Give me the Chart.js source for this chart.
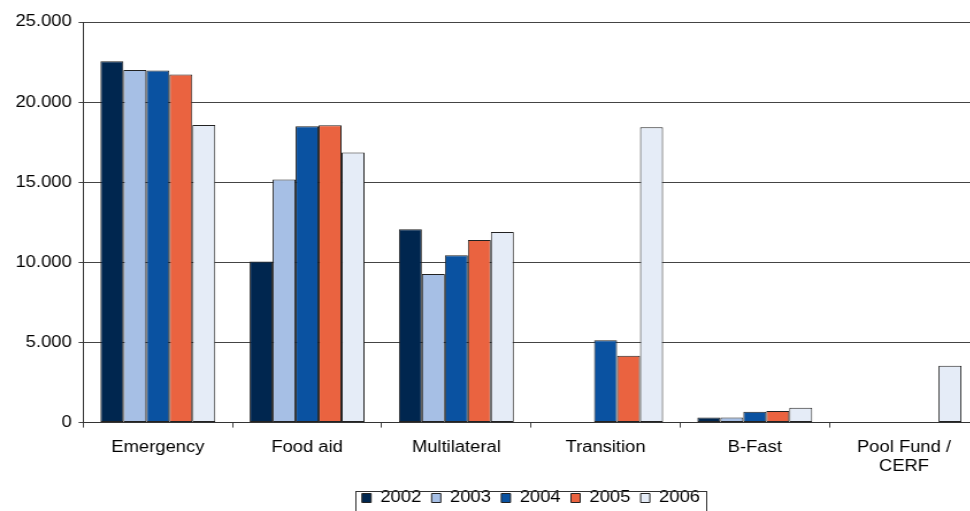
<!DOCTYPE html>
<html>
<head>
<meta charset="utf-8">
<script src="https://cdn.jsdelivr.net/npm/chart.js@4"></script>
<style>
  html, body { margin: 0; padding: 0; background: #fff; overflow: hidden; width: 970px; height: 511px; }
  #wrap { position: absolute; left: 0; top: 0; width: 856px; height: 511px; transform: scaleX(1.15); transform-origin: 0 0; }
</style>
</head>
<body>
<div id="wrap"><canvas id="c"></canvas></div>
<script>
// Humanitarian aid by instrument, 2002-2006 (thousands)
const categories = ['Emergency', 'Food aid', 'Multilateral', 'Transition', 'B-Fast', ['Pool Fund /', 'CERF']];
const years = ['2002', '2003', '2004', '2005', '2006'];
const values2002 = [22550, 10050, 12060, null, 320, null];
const values2003 = [22000, 15170, 9270, null, 320, null];
const values2004 = [21970, 18500, 10450, 5140, 680, null];
const values2005 = [21720, 18550, 11400, 4170, 730, null];
const values2006 = [18570, 16850, 11900, 18430, 930, 3550];
const yTicks = [0, 5000, 10000, 15000, 20000, 25000];

const seriesColors = ['#00264F', '#A6BFE5', '#0A52A1', '#EA6340', '#E5ECF7'];
const seriesValues = [values2002, values2003, values2004, values2005, values2006];

const FONT = "'Liberation Sans', Arial, sans-serif";

function thousands(v) {
  return String(v).replace(/\B(?=(\d{3})+(?!\d))/g, '.');
}

// Outline box around the legend entries
const legendFrame = {
  id: 'legendFrame',
  afterDraw(chart) {
    const lg = chart.legend;
    if (!lg || !lg.legendHitBoxes || !lg.legendHitBoxes.length) return;
    const hb = lg.legendHitBoxes;
    const last = hb[hb.length - 1];
    const left = Math.round(hb[0].left - 6) + 0.5;
    const right = Math.round(last.left + last.width + 5) + 0.5;
    const top = Math.round(hb[0].top + 1) + 0.5;
    const ctx = chart.ctx;
    ctx.save();
    ctx.strokeStyle = '#333';
    ctx.lineWidth = 1;
    ctx.strokeRect(left, top, right - left, chart.height - top + 20);
    ctx.restore();
  }
};

new Chart(document.getElementById('c'), {
  type: 'bar',
  data: {
    labels: categories,
    datasets: years.map((y, i) => ({
      label: y,
      data: seriesValues[i],
      backgroundColor: seriesColors[i],
      borderColor: '#222',
      borderWidth: 1,
      borderSkipped: false,
      categoryPercentage: 0.77,
      barPercentage: 1.0
    }))
  },
  options: {
    responsive: true,
    maintainAspectRatio: false,
    animation: false,
    devicePixelRatio: 1,
    layout: { padding: { top: 22, right: 5, bottom: -5, left: 0 } },
    plugins: {
      tooltip: { enabled: false },
      legend: {
        position: 'bottom',
        fullSize: false,
        labels: {
          color: '#000',
          font: { family: FONT, size: 16 },
          boxWidth: 8,
          boxHeight: 9,
          padding: 9
        }
      }
    },
    scales: {
      x: {
        afterFit(scale) { scale.height = scale.height - 5; },
        grid: { display: true, drawOnChartArea: false, offset: true, tickLength: 5, color: '#444' },
        border: { color: '#333', width: 1 },
        ticks: {
          color: '#000',
          font: { family: FONT, size: 16, lineHeight: 1.2 },
          padding: 10,
          maxRotation: 0,
          autoSkip: false
        }
      },
      y: {
        min: 0,
        max: 25000,
        afterFit(scale) { scale.width = 72.4; },
        afterBuildTicks(scale) { scale.ticks = yTicks.map(v => ({ value: v })); },
        grid: { color: '#444', tickLength: 4 },
        border: { color: '#333', width: 1 },
        ticks: {
          color: '#000',
          font: { family: FONT, size: 16 },
          padding: 6,
          callback: (v) => thousands(v)
        }
      }
    }
  },
  plugins: [legendFrame]
});
</script>
</body>
</html>
